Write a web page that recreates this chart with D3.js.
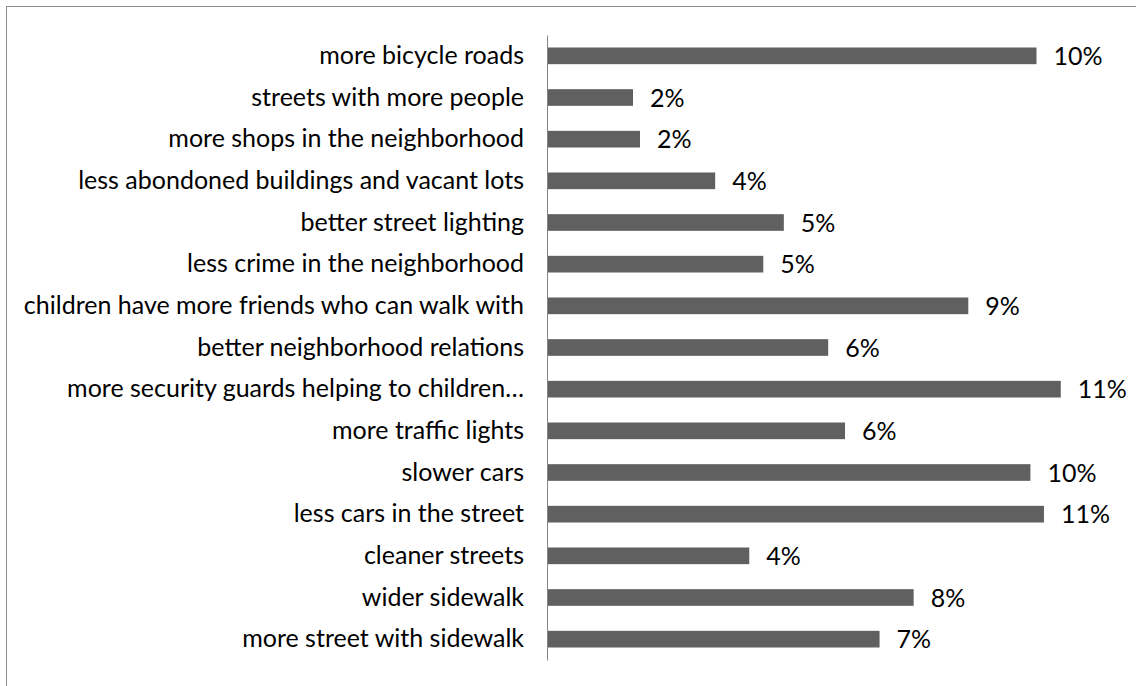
<!DOCTYPE html>
<html>
<head>
<meta charset="utf-8">
<script src="https://cdn.jsdelivr.net/npm/d3@7"></script>
<style>
  html, body { margin: 0; padding: 0; background: #fff; }
  svg { display: block; }
</style>
</head>
<body>
<svg id="chart" width="1136" height="686"></svg>
<script>
// Survey answers: what would make walking to school easier (share of all answers)
const categories = [
  "more bicycle roads",
  "streets with more people",
  "more shops in the neighborhood",
  "less abondoned buildings and vacant lots",
  "better street lighting",
  "less crime in the neighborhood",
  "children have more friends who can walk with",
  "better neighborhood relations",
  "more security guards helping to children…",
  "more traffic lights",
  "slower cars",
  "less cars in the street",
  "cleaner streets",
  "wider sidewalk",
  "more street with sidewalk"
];
const shares = [
  0.1046, 0.0182, 0.0197, 0.0358, 0.0505,
  0.0461, 0.0900, 0.0600, 0.1098, 0.0636,
  0.1033, 0.1062, 0.0431, 0.0783, 0.0710
];
const xDomain = [0, 0.12];

const data = categories.map((c, i) => ({ category: c, value: shares[i] }));

const svg = d3.select("#chart");
const FONT = "Lato, 'Open Sans', sans-serif";

// outer chart frame (right and bottom edges run past the canvas)
svg.append("rect")
  .attr("x", 6.5).attr("y", 6.5)
  .attr("width", 1300).attr("height", 900)
  .attr("fill", "none")
  .attr("stroke", "#8c8c8c")
  .attr("stroke-width", 1);

const plotLeft = 548, plotRight = 1108.4, plotTop = 35, plotBottom = 660;

const x = d3.scaleLinear().domain(xDomain).range([plotLeft, plotRight]);
const y = d3.scaleBand()
  .domain(categories)
  .range([plotTop, plotBottom])
  .paddingInner(0.6)
  .paddingOuter(0.3);

// bars
svg.append("g")
  .selectAll("rect")
  .data(data)
  .join("rect")
  .attr("x", x(0))
  .attr("y", d => y(d.category))
  .attr("width", d => x(d.value) - x(0))
  .attr("height", y.bandwidth())
  .attr("fill", "#606060");

// category axis
const yAxis = svg.append("g")
  .attr("transform", `translate(${plotLeft - 1},0)`)
  .call(d3.axisLeft(y).tickSize(0).tickSizeOuter(0).tickPadding(23));
yAxis.select(".domain").attr("stroke", "#868686").attr("stroke-width", 1);
yAxis.selectAll(".tick text")
  .attr("font-family", FONT)
  .attr("font-size", 25)
  .attr("fill", "#000")
  .attr("dy", "0.33em");

// value labels
const fmt = d3.format(".0%");
svg.append("g")
  .selectAll("text")
  .data(data)
  .join("text")
  .attr("x", d => x(d.value) + 17)
  .attr("y", d => y(d.category) + y.bandwidth() / 2)
  .attr("dy", "0.36em")
  .attr("font-family", FONT)
  .attr("font-size", 25)
  .attr("fill", "#000")
  .text(d => fmt(d.value));
</script>
</body>
</html>
